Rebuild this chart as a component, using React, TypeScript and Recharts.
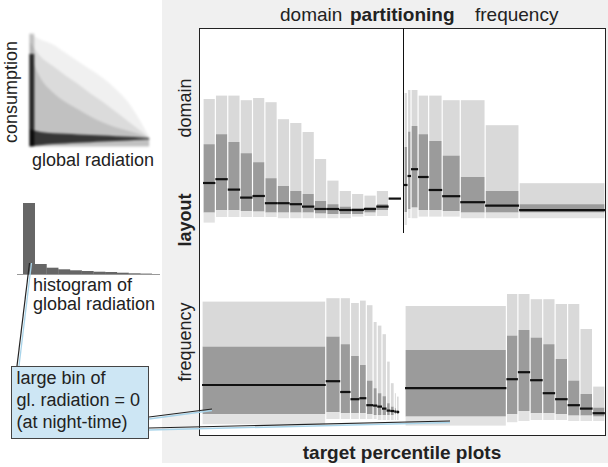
import {
  ComposedChart,
  BarChart,
  Bar,
  Area,
  Line,
  XAxis,
  YAxis,
  ReferenceArea,
  ReferenceLine,
} from "recharts";

// consumption percentiles per bin (arbitrary consumption units 0..100)
// top-left: domain partitioning, domain layout (16 equal radiation bins)
const domainEdges = [0, 50, 100, 150, 200, 250, 300, 350, 400, 450, 500, 550, 600, 650, 700, 750, 800];
const ddHigh = [68, 69.7, 69.7, 67.4, 68.5, 66.4, 57.9, 56, 51.5, 38, 27.2, 22, 20.5, 19.7, 22, null];
const ddQ3 = [45.4, 50.4, 46.5, 40.9, 36.4, 28.4, 24.5, 22, 20.5, 17, 15.4, 14.2, 13.4, 13.9, 15.4, null];
const ddMedian = [26, 27.9, 22.7, 18.7, 19.5, 15.9, 15.9, 15.4, 14.2, 13, 13, 12.5, 12.5, 13, 14.2, 18.2];
const ddQ1 = [11.2, 12.4, 12.4, 12, 11.7, 11.2, 11.2, 11.2, 11.2, 10.7, 10.4, 10.4, 10.4, 11.2, 12.5, null];
const ddLow = [6.2, 9, 9, 9, 9, 9, 8.4, 8.4, 8.4, 8.4, 8.4, 8.4, 9.2, 9.5, 9.5, null];

// top-right: frequency partitioning, domain layout
const freqEdges = [0, 14, 28, 56, 98, 152, 224, 323, 458, 800];
const fdHigh = [71, 72.5, 72.5, 69.7, 69.7, 67.4, 67.4, 54.9, 25.9];
const fdQ3 = [44, 51.7, 54.5, 50.4, 47, 39.7, 29, 22, 15.4];
const fdMedian = [25, 29.5, 32.9, 29, 22.5, 19.4, 16.4, 14.7, 12.4];
const fdQ1 = [11.5, 13, 13.7, 12.5, 12.5, 12, 11.2, 11.2, 11.2];
const fdLow = [5, 8.5, 8.4, 9.2, 9.2, 9.2, 8.4, 8.4, 8.4];

// bottom-left: domain partitioning, frequency layout (share of samples, %)
const dfShare = [62.5, 7.3, 5.2, 4.5, 3.5, 3.4, 2.1, 2.4, 2.3, 1.9, 2.0, 1.1, 1.4];
const dfHigh = [66.7, 68.4, 68.4, 66, 67.2, 64.9, 56.5, 54.7, 50.4, 36.7, 25.9, 20.9, 19.2];
const dfQ3 = [44.2, 49.2, 45.4, 39.5, 35, 27.2, 23.4, 20.9, 19.4, 15.9, 14.2, 13.4, 12.5];
const dfMedian = [25, 26.9, 21.5, 17.9, 18.4, 14.9, 14.7, 14.2, 13.2, 12.2, 12, 11.7, 11.5];
const dfQ1 = [10.4, 11.4, 10.9, 10.9, 10.9, 10.4, 10, 10, 10, 10, 10, 10.3, 10.5];
const dfLow = [5.4, 8, 8, 8, 8, 8, 8, 7.5, 7.5, 7.5, 7.5, 7.5, 7.5];

// bottom-right: frequency partitioning, frequency layout
const ffShare = [50.7, 5.75, 6.1, 6.3, 6.2, 6.25, 6.15, 6.35, 6.15];
const ffHigh = [64.5, 70.5, 70.5, 67.9, 67.9, 65.5, 65.5, 53, 24.2];
const ffQ3 = [42.5, 49.7, 52.5, 48.7, 45.4, 38, 27.2, 20.5, 13.7];
const ffMedian = [23.4, 27.9, 31.4, 27.4, 20.9, 17.9, 14.9, 13.2, 10.9];
const ffQ1 = [9.2, 10.4, 12, 10.9, 10.9, 10.4, 9.7, 9.7, 9.2];
const ffLow = [4.7, 6.4, 7, 7.5, 7.5, 7.5, 7, 7, 7];

// scatter density of consumption vs. global radiation (layered envelopes)
const cloudX = [1.5, 10, 20, 30, 40, 50, 60, 70, 80, 90, 97];
const cloudOuter = [97, 92, 88, 81, 74, 67, 60, 51, 40, 24, 11];
const cloudMid = [90, 78, 70, 62, 55, 47, 40, 32, 24, 16, 10];
const cloudInner = [80, 60, 48, 40, 34, 28, 23, 19, 16, 13, 10];
const bandLow = [3, 4, 5, 5.5, 6, 6.5, 7, 7.5, 8, 8.5, 9];
const bandHigh = [17, 15, 14, 13.5, 13, 12.5, 12, 11.5, 11, 10.5, 10];

// histogram of global radiation
const histCounts = [71, 10, 6.3, 4.7, 3.7, 3, 2.3, 2, 1.3, 0.7, 0.4];

const FONT = '"Liberation Sans", Arial, sans-serif';

type Row = { x0: number; x1: number; hi: number | null; q3: number | null; med: number | null; q1: number | null; lo: number | null };

const fromEdges = (edges: number[], hi: any[], q3: any[], med: any[], q1: any[], lo: any[]): Row[] =>
  med.map((m, i) => ({ x0: edges[i], x1: edges[i + 1], hi: hi[i], q3: q3[i], med: m, q1: q1[i], lo: lo[i] }));

const fromShares = (shares: number[], hi: any[], q3: any[], med: any[], q1: any[], lo: any[]): Row[] => {
  const edges = [0];
  shares.forEach((s) => edges.push(edges[edges.length - 1] + s));
  return fromEdges(edges, hi, q3, med, q1, lo);
};

const InsetRect = (p: any) => (
  <rect x={p.x + 0.6} y={p.y} width={Math.max(p.width - 1.2, 0.6)} height={Math.abs(p.height)} fill={p.fill} />
);

const PercentilePanel = ({ rows, domain, left, top, width, height }: { rows: Row[]; domain: number[]; left: number; top: number; width: number; height: number }) => (
  <div style={{ position: "absolute", left, top }}>
    <ComposedChart width={width} height={height} data={rows} margin={{ top: 0, right: 0, bottom: 0, left: 0 }}>
      <XAxis type="number" dataKey="x0" domain={domain} allowDataOverflow hide />
      <YAxis type="number" domain={[0, 100]} allowDataOverflow hide />
      {/* invisible carrier series so the axes get their scales */}
      <Line dataKey="med" stroke="none" dot={false} activeDot={false} isAnimationActive={false} />
      {rows.map((r, i) =>
        r.hi == null ? null : (
          <ReferenceArea key={`u${i}`} x1={r.x0} x2={r.x1} y1={r.q3 as number} y2={r.hi} fill="#d9d9d9" fillOpacity={1} shape={InsetRect} />
        )
      )}
      {rows.map((r, i) =>
        r.q3 == null ? null : (
          <ReferenceArea key={`b${i}`} x1={r.x0} x2={r.x1} y1={r.q1 as number} y2={r.q3} fill="#9b9b9b" fillOpacity={1} shape={InsetRect} />
        )
      )}
      {rows.map((r, i) =>
        r.lo == null ? null : (
          <ReferenceArea key={`l${i}`} x1={r.x0} x2={r.x1} y1={r.lo} y2={r.q1 as number} fill="#e2e2e2" fillOpacity={1} shape={InsetRect} />
        )
      )}
      {rows.map((r, i) => (
        <ReferenceLine
          key={`m${i}`}
          segment={[{ x: r.x0, y: r.med as number }, { x: r.x1, y: r.med as number }]}
          stroke="#111"
          strokeWidth={2.2}
        />
      ))}
    </ComposedChart>
  </div>
);

const Label = ({ x, y, text, bold, rotate, size = 18, align = "left" }: any) => (
  <div
    style={{
      position: "absolute",
      left: x,
      top: y,
      transform: rotate
        ? "translate(-50%,-50%) rotate(-90deg)"
        : align === "center"
        ? "translate(-50%,-50%)"
        : "translateY(-50%)",
      fontFamily: FONT,
      fontSize: size,
      fontWeight: bold ? 700 : 400,
      color: "#222",
      whiteSpace: "nowrap",
      lineHeight: 0.95,
    }}
  >
    {text}
  </div>
);

export default function App() {
  const cloud = cloudX.map((x, i) => ({
    x,
    outer: [3, cloudOuter[i]],
    mid: [3, cloudMid[i]],
    inner: [3, cloudInner[i]],
    band: [bandLow[i], bandHigh[i]],
  }));
  const hist = histCounts.map((c, i) => ({ bin: i, count: c }));

  return (
    <div style={{ position: "absolute", left: 0, top: 0, width: 608, height: 467, background: "#fff", overflow: "hidden" }}>
      {/* gray backdrop of the percentile plot figure */}
      <div style={{ position: "absolute", left: 162, top: 0, width: 446, height: 463, background: "#f0f0f0" }} />
      <div style={{ position: "absolute", left: 199, top: 28, width: 407, height: 408, background: "#fff", border: "1.5px solid #222", boxSizing: "border-box" }} />

      <PercentilePanel rows={fromEdges(domainEdges, ddHigh, ddQ3, ddMedian, ddQ1, ddLow)} domain={[0, 800]} left={203} top={35} width={198} height={200} />
      <PercentilePanel rows={fromEdges(freqEdges, fdHigh, fdQ3, fdMedian, fdQ1, fdLow)} domain={[0, 800]} left={404} top={35} width={201} height={200} />
      <PercentilePanel rows={fromShares(dfShare, dfHigh, dfQ3, dfMedian, dfQ1, dfLow)} domain={[0, 100]} left={202} top={235} width={198} height={200} />
      <PercentilePanel rows={fromShares(ffShare, ffHigh, ffQ3, ffMedian, ffQ1, ffLow)} domain={[0, 100]} left={405} top={235} width={200} height={200} />

      <div style={{ position: "absolute", left: 402.5, top: 28, width: 1.5, height: 205, background: "#111" }} />

      {/* scatter density */}
      <div style={{ position: "absolute", left: 28, top: 30, filter: "blur(1.2px)" }}>
        <ComposedChart width={125} height={120} data={cloud} margin={{ top: 0, right: 0, bottom: 0, left: 0 }}>
          <XAxis type="number" dataKey="x" domain={[0, 100]} hide />
          <YAxis type="number" domain={[0, 100]} hide />
          <Area dataKey="outer" type="monotone" stroke="none" fill="#000" fillOpacity={0.06} isAnimationActive={false} />
          <Area dataKey="mid" type="monotone" stroke="none" fill="#000" fillOpacity={0.09} isAnimationActive={false} />
          <Area dataKey="inner" type="monotone" stroke="none" fill="#000" fillOpacity={0.12} isAnimationActive={false} />
          <Area dataKey="band" type="monotone" stroke="none" fill="#000" fillOpacity={0.72} isAnimationActive={false} />
          <ReferenceArea x1={1} x2={5} y1={3} y2={80} fill="#000" fillOpacity={0.8} />
          <ReferenceArea x1={1} x2={5} y1={80} y2={97} fill="#000" fillOpacity={0.2} />
        </ComposedChart>
      </div>

      {/* histogram */}
      <div style={{ position: "absolute", left: 23.3, top: 202 }}>
        <BarChart width={129} height={72} data={hist} barCategoryGap={0} margin={{ top: 0, right: 0, bottom: 0, left: 0 }}>
          <XAxis dataKey="bin" hide />
          <YAxis type="number" domain={[0, 72]} hide />
          <Bar dataKey="count" fill="#666" isAnimationActive={false} />
        </BarChart>
      </div>
      <div style={{ position: "absolute", left: 17, top: 273.5, width: 143, height: 1.2, background: "#999" }} />

      {/* callout lines */}
      <svg width={608} height={467} style={{ position: "absolute", left: 0, top: 0, pointerEvents: "none" }}>
        <line x1={19} y1={366} x2={31.5} y2={263} stroke="#a8d4ea" strokeWidth={1.3} />
        <line x1={17} y1={366} x2={29.5} y2={263} stroke="#222" strokeWidth={1.2} />
        <line x1={149} y1={419} x2={212} y2={410.5} stroke="#a8d4ea" strokeWidth={1.3} />
        <line x1={149} y1={417} x2={212} y2={409} stroke="#222" strokeWidth={1.2} />
        <line x1={149} y1={430} x2={450} y2={422.5} stroke="#a8d4ea" strokeWidth={1.5} />
        <line x1={149} y1={428} x2={450} y2={421} stroke="#222" strokeWidth={1.2} />
      </svg>
      <div style={{ position: "absolute", left: 11, top: 366, width: 138, height: 73, background: "#cde6f4", border: "1.5px solid #444", boxSizing: "border-box" }} />

      {/* texts */}
      <Label x={12} y={92} text="consumption" rotate />
      <Label x={32} y={161} text="global radiation" />
      <Label x={33} y={286} text="histogram of" />
      <Label x={33} y={305} text="global radiation" />
      <Label x={16.5} y={379} text="large bin of" />
      <Label x={16.5} y={401} text="gl. radiation = 0" />
      <Label x={16.5} y={423} text="(at night-time)" />

      <Label x={280} y={15} text="domain" size={19} />
      <Label x={350} y={15} text="partitioning" bold size={19} />
      <Label x={475} y={15} text="frequency" size={19} />
      <Label x={186} y={108} text="domain" rotate />
      <Label x={186} y={220} text="layout" bold rotate />
      <Label x={186} y={342} text="frequency" rotate />
      <Label x={402} y={453} text="target percentile plots" bold size={19} align="center" />
    </div>
  );
}
